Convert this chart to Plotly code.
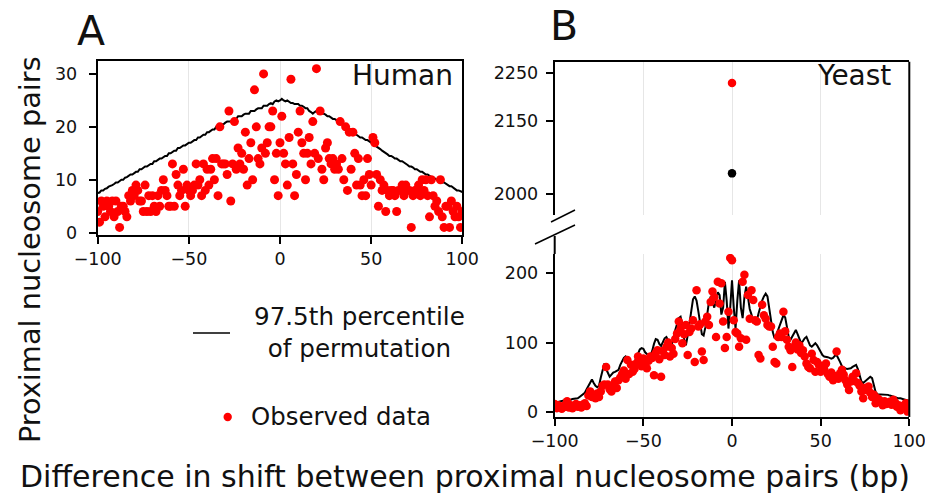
import plotly.graph_objects as go

W, H = 925, 496

# ---------------- data ----------------
shift_bp = list(range(-100, 101))

human_observed = [
    4, 2, 6, 5, 3, 6, 5, 4, 6, 3,
    6, 4, 1, 5, 5, 4, 3, 7, 6, 8,
    7, 9, 8, 6, 6, 4, 9, 4, 7, 4,
    7, 5, 4, 7, 5, 8, 10, 8, 7, 5,
    5, 13, 5, 11, 9, 7, 8, 12, 5, 9,
    8, 7, 8, 9, 13, 9, 10, 7, 13, 8,
    12, 9, 12, 14, 10, 14, 7, 20, 13, 13,
    13, 11, 23, 6, 13, 21, 12, 16, 13, 15,
    12, 19, 9, 14, 17, 10, 27, 20, 14, 13,
    16, 30, 15, 17, 20, 20, 23, 10, 15, 7,
    17, 22, 15, 13, 9, 18, 29, 13, 7, 11,
    19, 23, 17, 15, 10, 15, 18, 13, 21, 15,
    31, 14, 23, 12, 10, 16, 17, 14, 13, 14,
    12, 13, 12, 21, 14, 10, 20, 8, 19, 12,
    19, 15, 9, 14, 9, 7, 10, 7, 14, 11,
    9, 18, 17, 11, 5, 10, 8, 9, 4, 8,
    7, 8, 8, 7, 4, 8, 8, 9, 7, 9,
    8, 8, 1, 7, 8, 8, 9, 7, 10, 8,
    10, 7, 3, 10, 7, 5, 6, 4, 10, 3,
    1, 5, 5, 1, 6, 4, 3, 5, 3, 1,
    4,
]

human_perm975 = [
    7.5, 7.6, 8.0, 8.0, 8.3, 8.4, 8.7, 8.8, 9.0, 9.2,
    9.5, 9.5, 9.8, 10.0, 10.0, 10.4, 10.5, 10.7, 11.0, 11.0,
    11.3, 11.5, 11.5, 12.0, 12.0, 12.2, 12.5, 12.5, 12.8, 13.0,
    13.0, 13.5, 13.5, 13.7, 14.0, 14.0, 14.3, 14.5, 14.5, 15.0,
    15.0, 15.2, 15.5, 15.5, 16.0, 16.0, 16.2, 16.5, 16.5, 16.8,
    17.0, 17.0, 17.3, 17.5, 17.5, 18.0, 18.0, 18.2, 18.5, 18.5,
    19.0, 19.0, 19.3, 19.5, 19.5, 20.0, 20.0, 20.0, 20.5, 20.5,
    20.8, 21.0, 21.0, 21.0, 21.3, 21.5, 21.5, 22.0, 22.0, 22.0,
    22.3, 22.5, 22.5, 22.5, 23.0, 23.0, 23.0, 23.3, 23.5, 23.5,
    23.5, 24.0, 24.0, 24.0, 24.3, 24.5, 24.3, 24.8, 25.0, 24.8,
    25.0, 25.3, 25.0, 24.8, 25.0, 24.8, 24.5, 24.5, 24.3, 24.3,
    24.3, 24.0, 24.0, 23.8, 23.5, 23.5, 23.0, 22.8, 22.5, 22.8,
    23.0, 22.8, 22.8, 22.5, 22.5, 22.3, 22.0, 22.0, 21.8, 21.5,
    21.5, 21.3, 21.0, 20.8, 20.5, 20.3, 20.0, 19.8, 19.5, 19.3,
    19.0, 18.8, 18.5, 18.3, 18.0, 18.0, 17.8, 17.5, 17.5, 17.3,
    17.0, 16.8, 16.5, 16.3, 16.0, 15.8, 15.5, 15.3, 15.0, 14.8,
    14.5, 14.5, 14.3, 14.0, 14.0, 13.8, 13.5, 13.5, 13.3, 13.0,
    12.8, 12.5, 12.5, 12.3, 12.0, 12.0, 11.8, 11.5, 11.5, 11.3,
    11.0, 11.0, 10.8, 10.5, 10.5, 10.3, 10.0, 10.0, 9.8, 9.5,
    9.5, 9.3, 9.0, 8.8, 8.8, 8.5, 8.3, 8.0, 8.0, 7.8,
    7.7,
]

yeast_observed = [
    12, 6, 10, 8, 5, 9, 8, 16, 7, 10,
    6, 9, 12, 8, 10, 7, 11, 13, 9, 24,
    30, 22, 25, 20, 27, 22, 30, 38, 40, 65,
    40, 33, 30, 38, 44, 35, 46, 50, 55, 60,
    48, 75, 55, 68, 58, 62, 70, 80, 72, 66,
    77, 70, 63, 74, 80, 78, 53, 85, 89, 76,
    51, 88, 82, 94, 100, 80, 92, 84, 105, 113,
    130, 120, 99, 112, 125, 82, 115, 120, 132, 72,
    175, 123, 126, 87, 75, 130, 137, 125, 158, 173,
    165, 108, 187, 156, 185, 130, 92, 108, 144, 221,
    218, 132, 115, 113, 94, 106, 187, 197, 104, 168,
    134, 175, 161, 132, 130, 82, 77, 154, 139, 134,
    125, 123, 123, 94, 72, 70, 108, 113, 108, 144,
    116, 104, 94, 89, 65, 94, 100, 90, 96, 85,
    89, 80, 70, 65, 63, 84, 75, 58, 72, 68,
    58, 66, 62, 70, 55, 51, 57, 46, 52, 87,
    48, 56, 61, 54, 46, 40, 32, 44, 51, 45,
    56, 42, 38, 30, 20, 35, 32, 37, 28, 22,
    25, 13, 20, 18, 15, 10, 16, 12, 13, 15,
    11, 18, 14, 8, 10, 3, 9, 8, 13, 1,
    10,
]

yeast_perm975 = [
    15, 14, 15, 16, 16, 17, 17, 17, 18, 18,
    19, 19, 20, 20, 22, 24, 25, 28, 33, 38,
    44, 47, 42, 38, 36, 38, 50, 62, 70, 62,
    55, 51, 54, 57, 58, 60, 61, 68, 74, 78,
    80, 77, 73, 71, 70, 72, 78, 85, 90, 92,
    91, 86, 83, 81, 82, 88, 98, 105, 104, 98,
    95, 100, 106, 108, 103, 98, 97, 105, 118, 127,
    135, 137, 125, 105, 96, 110, 128, 148, 162, 166,
    160, 145, 125, 112, 110, 122, 140, 158, 166, 158,
    150, 160, 172, 168, 140, 150, 187, 160, 120, 150,
    189, 150, 120, 160, 189, 150, 135, 165, 180, 165,
    148, 140, 130, 127, 132, 142, 152, 160, 166, 170,
    166, 150, 130, 115, 106, 110, 118, 126, 134, 139,
    136, 122, 108, 104, 108, 114, 118, 112, 104, 99,
    102, 106, 108, 102, 96, 94, 96, 99, 96, 91,
    86, 82, 80, 80, 79, 78, 77, 78, 81, 82,
    78, 72, 66, 64, 63, 62, 62, 63, 65, 67,
    68, 62, 52, 44, 42, 44, 46, 48, 51, 49,
    38, 29, 26, 26, 25, 25, 25, 25, 25, 24,
    23, 22, 21, 21, 20, 20, 19, 18, 18, 17,
    17,
]

# x = 0 values for yeast (shown in the upper, broken part of the axis)
yeast_zero_x = [0]
yeast_zero_observed = [2229]
yeast_zero_perm975 = [2043]

human_yticks = [0, 10, 20, 30]
yeast_upper_yticks = [2000, 2150, 2250]
yeast_lower_yticks = [0, 100, 200]
x_ticks = [-100, -50, 0, 50, 100]

# ---------------- helpers (pixel -> paper) ----------------
def fx(p):
    return p / W

def fy(p):
    return 1 - p / H

FONT = "DejaVu Sans"
TXT = "#111111"
RED = "#ff0000"
GRID = "#e6e6e6"

fig = go.Figure()

# Panel A
fig.add_trace(go.Scatter(x=shift_bp, y=human_perm975, mode="lines",
                         line=dict(color="black", width=2), xaxis="x", yaxis="y",
                         showlegend=False, hoverinfo="skip"))
fig.add_trace(go.Scatter(x=shift_bp, y=human_observed, mode="markers",
                         marker=dict(color=RED, size=9, line=dict(width=0)),
                         xaxis="x", yaxis="y", showlegend=False))

# Panel B upper
fig.add_trace(go.Scatter(x=yeast_zero_x, y=yeast_zero_perm975, mode="markers",
                         marker=dict(color="black", size=8.5, line=dict(width=0)),
                         xaxis="x2", yaxis="y2", showlegend=False))
fig.add_trace(go.Scatter(x=yeast_zero_x, y=yeast_zero_observed, mode="markers",
                         marker=dict(color=RED, size=8.5, line=dict(width=0)),
                         xaxis="x2", yaxis="y2", showlegend=False))

# Panel B lower
fig.add_trace(go.Scatter(x=shift_bp, y=yeast_perm975, mode="lines",
                         line=dict(color="black", width=2), xaxis="x3", yaxis="y3",
                         showlegend=False, hoverinfo="skip"))
fig.add_trace(go.Scatter(x=shift_bp, y=yeast_observed, mode="markers",
                         marker=dict(color=RED, size=8.5, line=dict(width=0)),
                         xaxis="x3", yaxis="y3", showlegend=False))

tickfont = dict(family=FONT, size=17.5, color=TXT)
common_ax = dict(tickfont=tickfont, zeroline=False, tickcolor="black",
                 tickwidth=2, ticklen=7, linecolor="black", linewidth=2,
                 automargin=False, ticklabeloverflow="allow")

fig.update_layout(
    width=W, height=H,
    margin=dict(l=0, r=0, t=0, b=0, autoexpand=False),
    paper_bgcolor="white", plot_bgcolor="white",
    showlegend=False,
    xaxis=dict(domain=[fx(97.7), fx(462.3)], range=[-100, 100], anchor="y",
               tickvals=x_ticks, ticks="outside", showline=True, mirror=True,
               showgrid=True, gridcolor=GRID, gridwidth=1, **common_ax),
    yaxis=dict(domain=[fy(235), fy(60.7)], range=[-0.43, 32.5], anchor="x",
               tickvals=human_yticks, ticks="outside", showline=True, mirror=True,
               showgrid=False, ticklabelstandoff=8, **common_ax),
    xaxis2=dict(domain=[fx(554.7), fx(909.3)], range=[-100, 100], anchor="y2",
                tickvals=[-50, 0, 50], showticklabels=False, ticks="",
                showline=True, side="top", mirror=False,
                showgrid=True, gridcolor=GRID, gridwidth=1, **common_ax),
    yaxis2=dict(domain=[fy(215), fy(61.7)], range=[1957.4, 2272.6], anchor="x2",
                tickvals=yeast_upper_yticks, ticks="outside", showline=True,
                showgrid=False, ticklabelstandoff=4, **common_ax),
    xaxis3=dict(domain=[fx(554.7), fx(909.3)], range=[-100, 100], anchor="y3",
                tickvals=x_ticks, ticks="outside", showline=True,
                showgrid=True, gridcolor=GRID, gridwidth=1, **common_ax),
    yaxis3=dict(domain=[fy(417), fy(254)], range=[-6.7, 226.8], anchor="x3",
                tickvals=yeast_lower_yticks, ticks="outside", showline=True,
                showgrid=False, ticklabelstandoff=4, **common_ax),
)

shapes = []
def seg(x0, y0, x1, y1, w=2, color="black"):
    shapes.append(dict(type="line", xref="paper", yref="paper",
                       x0=fx(x0), y0=fy(y0), x1=fx(x1), y1=fy(y1),
                       line=dict(color=color, width=w)))

# right border of panel B (continuous)
seg(909.3, 61.7, 909.3, 417)
# left axis extension of lower B panel
seg(554.7, 236, 554.7, 254)
# axis break marks
seg(551, 222, 575, 210, w=1.5)
seg(535, 244, 575, 225, w=1.5)
# legend line
seg(193, 333, 230, 333, w=1.5)
# legend dot
shapes.append(dict(type="circle", xref="paper", yref="paper",
                   x0=fx(223.5), x1=fx(231.9), y0=fy(421.2), y1=fy(412.8),
                   fillcolor=RED, line=dict(width=0)))
fig.update_layout(shapes=shapes)

def ann(text, x, y, size, xanchor="center", yanchor="middle", angle=0, align="center"):
    fig.add_annotation(text=text, xref="paper", yref="paper", x=fx(x), y=fy(y),
                       xanchor=xanchor, yanchor=yanchor, showarrow=False,
                       textangle=angle, align=align,
                       font=dict(family=FONT, size=size, color=TXT))

ann("A", 91, 31, 41)
ann("B", 564, 26, 41)
ann("Human", 455, 76, 28, xanchor="right")
ann("Yeast", 893, 75, 28, xanchor="right")
ann("Proximal nucleosome pairs", 30, 250, 28.8, angle=-90)
ann("Difference in shift between proximal nucleosome pairs (bp)", 465, 476, 30)
ann("97.5th percentile<br>of permutation", 252, 332, 24.6, xanchor="left")
ann("Observed data", 249, 416, 24.4, xanchor="left")

fig.write_html("out.html")
